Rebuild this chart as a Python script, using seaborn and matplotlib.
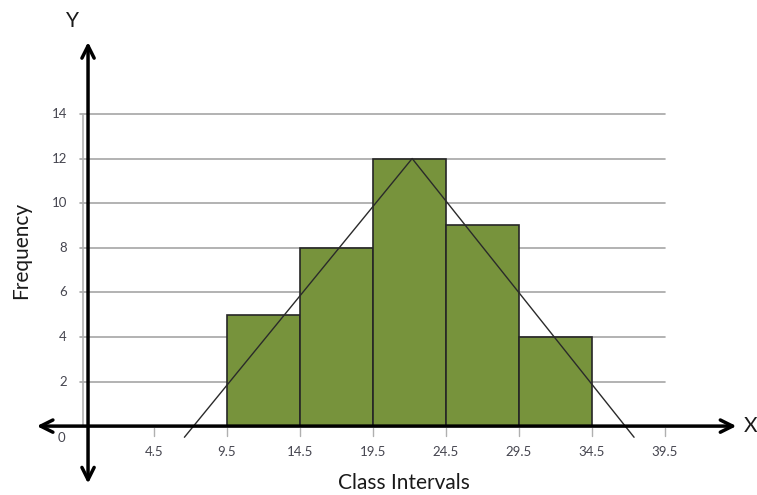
# Histogram with frequency polygon
import matplotlib
matplotlib.use("Agg")
import matplotlib.pyplot as plt
import seaborn as sns

# Data
class_edges = [9.5, 14.5, 19.5, 24.5, 29.5, 34.5]
class_mids = [12, 17, 22, 27, 32]
frequencies = [5, 8, 12, 9, 4]
poly_x = [6.6, 22.2, 37.4]
poly_y = [-0.5, 12, -0.5]
x_ticks = [4.5, 9.5, 14.5, 19.5, 24.5, 29.5, 34.5, 39.5]
y_ticks = [2, 4, 6, 8, 10, 12, 14]

sns.set_style("white")
plt.rcParams["font.family"] = ["Lato", "DejaVu Sans"]

fig = plt.figure(figsize=(7.57, 4.95), dpi=100)
ax = fig.add_axes([0, 0, 1, 1])

# grid lines and plot area border
for y in y_ticks:
    ax.plot([-0.55, 39.5], [y, y], color="#a6a6a6", lw=1.2, zorder=1)
ax.plot([-0.34, -0.34], [0, 14], color="#b0b0b0", lw=1.2, zorder=1)

# bars
sns.histplot(x=class_mids, weights=frequencies, bins=class_edges, ax=ax,
             color="#77933c", alpha=1, edgecolor="#262626", linewidth=1.2,
             zorder=2)

# frequency polygon
sns.lineplot(x=poly_x, y=poly_y, ax=ax, color="#2a2a2a", lw=1, zorder=3)

ax.set_xlim(-6.03, 45.82)
ax.set_ylim(-3.09, 19.11)
ax.axis("off")

# axes with arrows
ax.annotate("", xy=(44.6, 0), xytext=(-3.7, 0),
            arrowprops=dict(arrowstyle="<->", color="black", lw=2.5,
                            mutation_scale=22), zorder=4)
ax.annotate("", xy=(0, 17.35), xytext=(0, -2.7),
            arrowprops=dict(arrowstyle="<->", color="black", lw=2.5,
                            mutation_scale=22), zorder=4)

# tick labels
tick_color = "#45454f"
for x in x_ticks:
    ax.plot([x, x], [-0.1, -0.45], color="#b0b0b0", lw=1, zorder=1)
    ax.text(x, -1.17, str(x), ha="center", va="center", fontsize=9.5,
            color=tick_color)
for y in y_ticks:
    ax.text(-1.45, y, str(y), ha="right", va="center", fontsize=9.5,
            color=tick_color)
ax.text(-1.55, -0.55, "0", ha="right", va="center", fontsize=9.5,
        color=tick_color)

# labels
ax.text(-1.05, 18.15, "Y", ha="center", va="center", fontsize=15, color="#1a1a1a")
ax.text(44.9, 0, "X", ha="left", va="center", fontsize=15, color="#1a1a1a")
ax.text(-4.55, 7.9, "Frequency", ha="center", va="center", rotation=90,
        fontsize=15, color="#1a1a1a")
ax.text(21.65, -2.56, "Class Intervals", ha="center", va="center",
        fontsize=15, color="#1a1a1a")

plt.savefig("out.png", dpi=100)
